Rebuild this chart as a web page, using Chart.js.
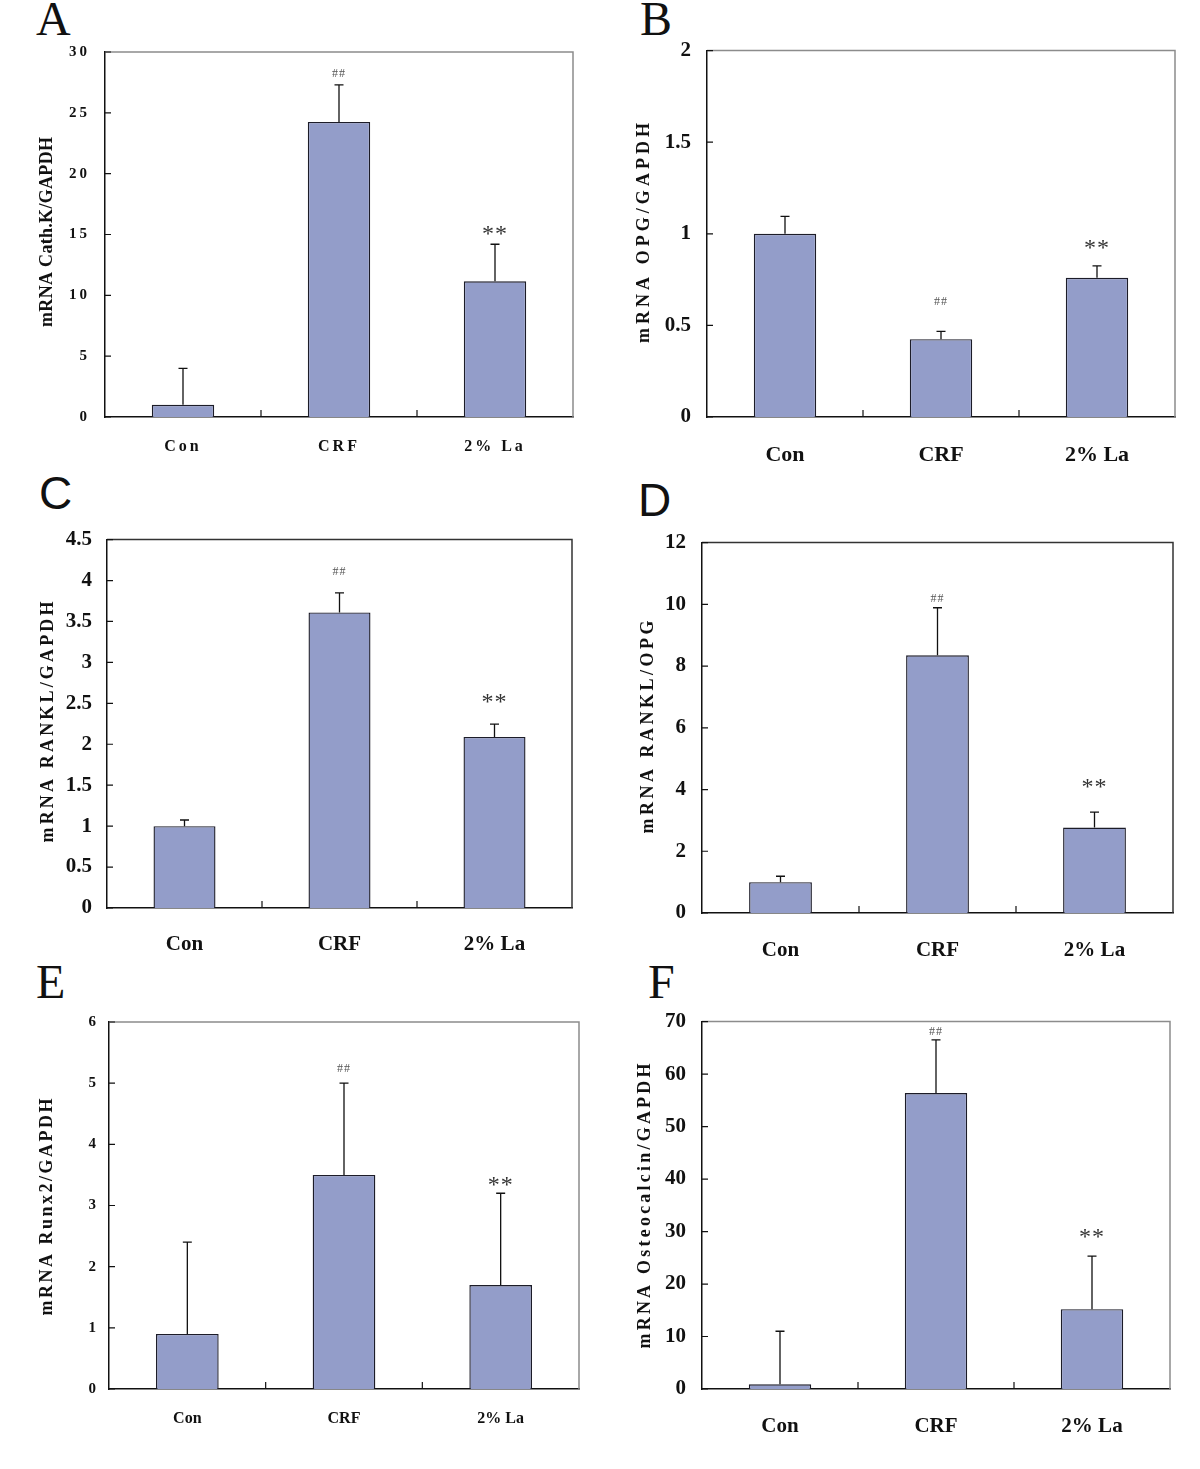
<!DOCTYPE html>
<html>
<head>
<meta charset="utf-8">
<script src="https://cdn.jsdelivr.net/npm/chart.js@4.4.0/dist/chart.umd.min.js"></script>
<style>
  body { margin: 0; background: #fff; width: 1200px; height: 1469px; position: relative; overflow: hidden; }
  canvas { position: absolute; }
  .tag { position: absolute; line-height: 1; color: #111; }
  .serif { font-family: "Liberation Serif", "DejaVu Serif", serif; font-size: 48px; }
  .sans  { font-family: "Liberation Sans", Arial, sans-serif; font-size: 46px; }
</style>
</head>
<body>
<div class="tag serif" style="left:36px;top:-5px">A</div>
<div class="tag serif" style="left:640px;top:-5px">B</div>
<div class="tag sans"  style="left:39px;top:470px">C</div>
<div class="tag sans"  style="left:638px;top:477px">D</div>
<div class="tag serif" style="left:36px;top:958px">E</div>
<div class="tag serif" style="left:648px;top:958px">F</div>

<canvas id="chart-A"></canvas>
<canvas id="chart-B"></canvas>
<canvas id="chart-C"></canvas>
<canvas id="chart-D"></canvas>
<canvas id="chart-E"></canvas>
<canvas id="chart-F"></canvas>

<script>
// Groups and significance marks shared by every panel
const GROUPS = ["Con", "CRF", "2% La"];
const MARKS  = ["", "##", "**"];

// A: Cathepsin K
const CATHK_MEAN  = [1.0, 24.25, 11.15];
const CATHK_SD    = [3.0, 3.05, 3.05];
const CATHK_TICKS = [0, 5, 10, 15, 20, 25, 30];

// B: OPG
const OPG_MEAN  = [1.0, 0.425, 0.76];
const OPG_SD    = [0.095, 0.042, 0.065];
const OPG_TICKS = [0, 0.5, 1, 1.5, 2];

// C: RANKL
const RANKL_MEAN  = [1.0, 3.61, 2.09];
const RANKL_SD    = [0.075, 0.24, 0.155];
const RANKL_TICKS = [0, 0.5, 1, 1.5, 2, 2.5, 3, 3.5, 4, 4.5];

// D: RANKL/OPG
const RATIO_MEAN  = [1.0, 8.35, 2.77];
const RATIO_SD    = [0.19, 1.54, 0.5];
const RATIO_TICKS = [0, 2, 4, 6, 8, 10, 12];

// E: Runx2
const RUNX2_MEAN  = [0.9, 3.5, 1.7];
const RUNX2_SD    = [1.5, 1.5, 1.5];
const RUNX2_TICKS = [0, 1, 2, 3, 4, 5, 6];

// F: Osteocalcin
const OCN_MEAN  = [0.9, 56.4, 15.2];
const OCN_SD    = [10.1, 10.1, 10.1];
const OCN_TICKS = [0, 10, 20, 30, 40, 50, 60, 70];

const BAR_FILL = "#939dc9";
const INK      = "#111111";
const SERIF    = '"Liberation Serif", "DejaVu Serif", serif';

// Canvas margins round each plot box (room for labels / titles)
const M = { left: 100, top: 20, right: 10, bottom: 60 };

// Layout per panel: plot box [left, top, right, bottom] and text styles
const PANELS = [
  { key: "A", title: "mRNA Cath.K/GAPDH", mean: CATHK_MEAN, sd: CATHK_SD, ticks: CATHK_TICKS,
    box: [105, 52, 573, 417], tickFont: 15, spacing: 3, yPad: 15, xFont: 16, xPad: 20,
    titleX: 47, titleY: 232, titleLen: 190, frame: "#8c8c8c", hashGap: 12, starGap: 14 },
  { key: "B", title: "mRNA OPG/GAPDH", mean: OPG_MEAN, sd: OPG_SD, ticks: OPG_TICKS,
    box: [707, 51, 1175, 417], tickFont: 21, spacing: 0, yPad: 16, xFont: 22, xPad: 25,
    titleX: 644, titleY: 233, titleLen: 220, frame: "#8c8c8c", hashGap: 30, starGap: 21 },
  { key: "C", title: "mRNA RANKL/GAPDH", mean: RANKL_MEAN, sd: RANKL_SD, ticks: RANKL_TICKS,
    box: [107, 540, 572, 908], tickFont: 21, spacing: 0, yPad: 15, xFont: 21, xPad: 24,
    titleX: 48, titleY: 722, titleLen: 241, frame: "#333333", hashGap: 22, starGap: 26 },
  { key: "D", title: "mRNA RANKL/OPG", mean: RATIO_MEAN, sd: RATIO_SD, ticks: RATIO_TICKS,
    box: [702, 543, 1173, 913], tickFont: 21, spacing: 0, yPad: 16, xFont: 21, xPad: 25,
    titleX: 648, titleY: 727, titleLen: 213, frame: "#333333", hashGap: 10, starGap: 29 },
  { key: "E", title: "mRNA Runx2/GAPDH", mean: RUNX2_MEAN, sd: RUNX2_SD, ticks: RUNX2_TICKS,
    box: [109, 1022, 579, 1389], tickFont: 15, spacing: 0, yPad: 13, xFont: 16, xPad: 20,
    titleX: 47, titleY: 1207, titleLen: 217, frame: "#8c8c8c", hashGap: 15, starGap: 12 },
  { key: "F", title: "mRNA Osteocalcin/GAPDH", mean: OCN_MEAN, sd: OCN_SD, ticks: OCN_TICKS,
    box: [702, 1022, 1170, 1389], tickFont: 21, spacing: 0, yPad: 16, xFont: 21, xPad: 25,
    titleX: 645, titleY: 1206, titleLen: 285, frame: "#8c8c8c", hashGap: 9, starGap: 23 }
];

// Draw text centred on (cx, cy) using real glyph bounds
function centredText(ctx, text, cx, cy) {
  const m = ctx.measureText(text);
  ctx.textAlign = "center";
  ctx.textBaseline = "alphabetic";
  ctx.fillText(text, cx, cy + (m.actualBoundingBoxAscent - m.actualBoundingBoxDescent) / 2);
}

/**
 * Error bars, significance marks, frame, inner tick marks and y title.
 */
const decorPlugin = {
  id: "decor",
  beforeDraw(chart, args, o) {
    chart.ctx.letterSpacing = o.spacing + "px";
  },
  afterDatasetsDraw(chart, args, o) {
    const ctx = chart.ctx, xs = chart.scales.x, ys = chart.scales.y;
    const data = chart.data.datasets[0].data;
    ctx.save();
    ctx.letterSpacing = "0px";
    data.forEach((v, i) => {
      const px = xs.getPixelForValue(i);
      const yBar = ys.getPixelForValue(v);
      const yTop = ys.getPixelForValue(v + o.sd[i]);
      ctx.strokeStyle = INK;
      ctx.lineWidth = 1.3;
      ctx.beginPath();
      ctx.moveTo(px, yBar); ctx.lineTo(px, yTop);
      ctx.moveTo(px - 4.5, yTop); ctx.lineTo(px + 4.5, yTop);
      ctx.stroke();

      const mark = o.marks[i];
      if (!mark) return;
      ctx.letterSpacing = "1px";
      if (mark === "**") {
        ctx.font = "24px " + SERIF;
        ctx.fillStyle = "#333";
        centredText(ctx, mark, px, yTop - o.starGap);
      } else {
        ctx.font = "12px " + SERIF;
        ctx.fillStyle = "#555";
        centredText(ctx, mark, px, yTop - o.hashGap);
      }
      ctx.letterSpacing = "0px";
    });
    ctx.restore();
  },
  afterDraw(chart, args, o) {
    const ctx = chart.ctx, a = chart.chartArea, xs = chart.scales.x, ys = chart.scales.y;
    ctx.save();
    ctx.letterSpacing = "0px";

    // top and right frame
    ctx.strokeStyle = o.frame;
    ctx.lineWidth = 1.5;
    ctx.beginPath();
    ctx.moveTo(a.left, a.top); ctx.lineTo(a.right, a.top); ctx.lineTo(a.right, a.bottom);
    ctx.stroke();

    // inner tick marks
    ctx.strokeStyle = INK;
    ctx.lineWidth = 1.2;
    ctx.beginPath();
    ys.ticks.forEach((t, i) => {
      const y = ys.getPixelForTick(i);
      ctx.moveTo(a.left, y); ctx.lineTo(a.left + 6, y);
    });
    for (let i = 1; i < GROUPS.length; i++) {
      const x = (xs.getPixelForValue(i - 1) + xs.getPixelForValue(i)) / 2;
      ctx.moveTo(x, a.bottom); ctx.lineTo(x, a.bottom - 7);
    }
    ctx.stroke();

    // rotated y-axis title, spaced to its measured length
    ctx.font = "bold 18px " + SERIF;
    ctx.fillStyle = INK;
    const w = ctx.measureText(o.title).width;
    const gap = (o.titleLen - w) / (o.title.length - 1);
    ctx.letterSpacing = gap.toFixed(2) + "px";
    ctx.translate(o.titleX, o.titleY);
    ctx.rotate(-Math.PI / 2);
    ctx.textAlign = "center";
    ctx.textBaseline = "middle";
    ctx.fillText(o.title, gap / 2, 0);
    ctx.restore();
  }
};

function buildChart(p, canvas, W, H, ox, oy) {
  canvas.width = W;
  canvas.height = H;
  canvas.style.left = ox + "px";
  canvas.style.top = oy + "px";
  canvas.style.width = W + "px";
  canvas.style.height = H + "px";

  return new Chart(canvas.getContext("2d"), {
    type: "bar",
    data: {
      labels: GROUPS,
      datasets: [{
        data: p.mean,
        backgroundColor: BAR_FILL,
        borderColor: "#1c1c28",
        borderWidth: 1.4,
        borderSkipped: "bottom",
        barPercentage: 0.4,
        categoryPercentage: 1.0
      }]
    },
    options: {
      responsive: false,
      maintainAspectRatio: false,
      animation: false,
      devicePixelRatio: 1,
      layout: { padding: { left: 0, top: M.top, right: M.right, bottom: 0 } },
      plugins: {
        legend: { display: false },
        tooltip: { enabled: false },
        decor: {
          sd: p.sd, marks: MARKS, spacing: p.spacing, frame: p.frame,
          hashGap: p.hashGap, starGap: p.starGap, title: p.title,
          titleX: p.titleX - ox, titleY: p.titleY - oy, titleLen: p.titleLen
        }
      },
      scales: {
        x: {
          offset: true,
          grid: { display: false, drawTicks: false },
          border: { display: true, color: INK, width: 1.5 },
          ticks: { color: INK, padding: p.xPad, font: { family: SERIF, size: p.xFont, weight: "bold" } },
          afterFit: (s) => { s.height = M.bottom; }
        },
        y: {
          min: p.ticks[0],
          max: p.ticks[p.ticks.length - 1],
          grid: { display: false, drawTicks: false },
          border: { display: true, color: INK, width: 1.5 },
          afterBuildTicks: (s) => { s.ticks = p.ticks.map((v) => ({ value: v })); },
          ticks: {
            autoSkip: false, color: INK, padding: p.yPad,
            font: { family: SERIF, size: p.tickFont, weight: "bold" },
            callback: (v) => String(v)
          },
          afterFit: (s) => { s.width = M.left; }
        }
      }
    },
    plugins: [decorPlugin]
  });
}

// First pass measures how far Chart.js moved the plot area, second pass compensates.
function drawPanel(p) {
  const [l, t, r, b] = p.box;
  const canvas = document.getElementById("chart-" + p.key);
  const W = Math.round(r - l + M.left + M.right);
  const H = Math.round(b - t + M.top + M.bottom);

  let chart = buildChart(p, canvas, W, H, l - M.left, t - M.top);
  const a = chart.chartArea;
  const eTop = a.top - M.top, eBottom = (H - M.bottom) - a.bottom;
  const eLeft = a.left - M.left, eRight = (W - M.right) - a.right;
  chart.destroy();

  buildChart(p, canvas,
    Math.round(W + eLeft + eRight), Math.round(H + eTop + eBottom),
    Math.round(l - M.left - eLeft), Math.round(t - M.top - eTop));
}

PANELS.forEach(drawPanel);
</script>
</body>
</html>
